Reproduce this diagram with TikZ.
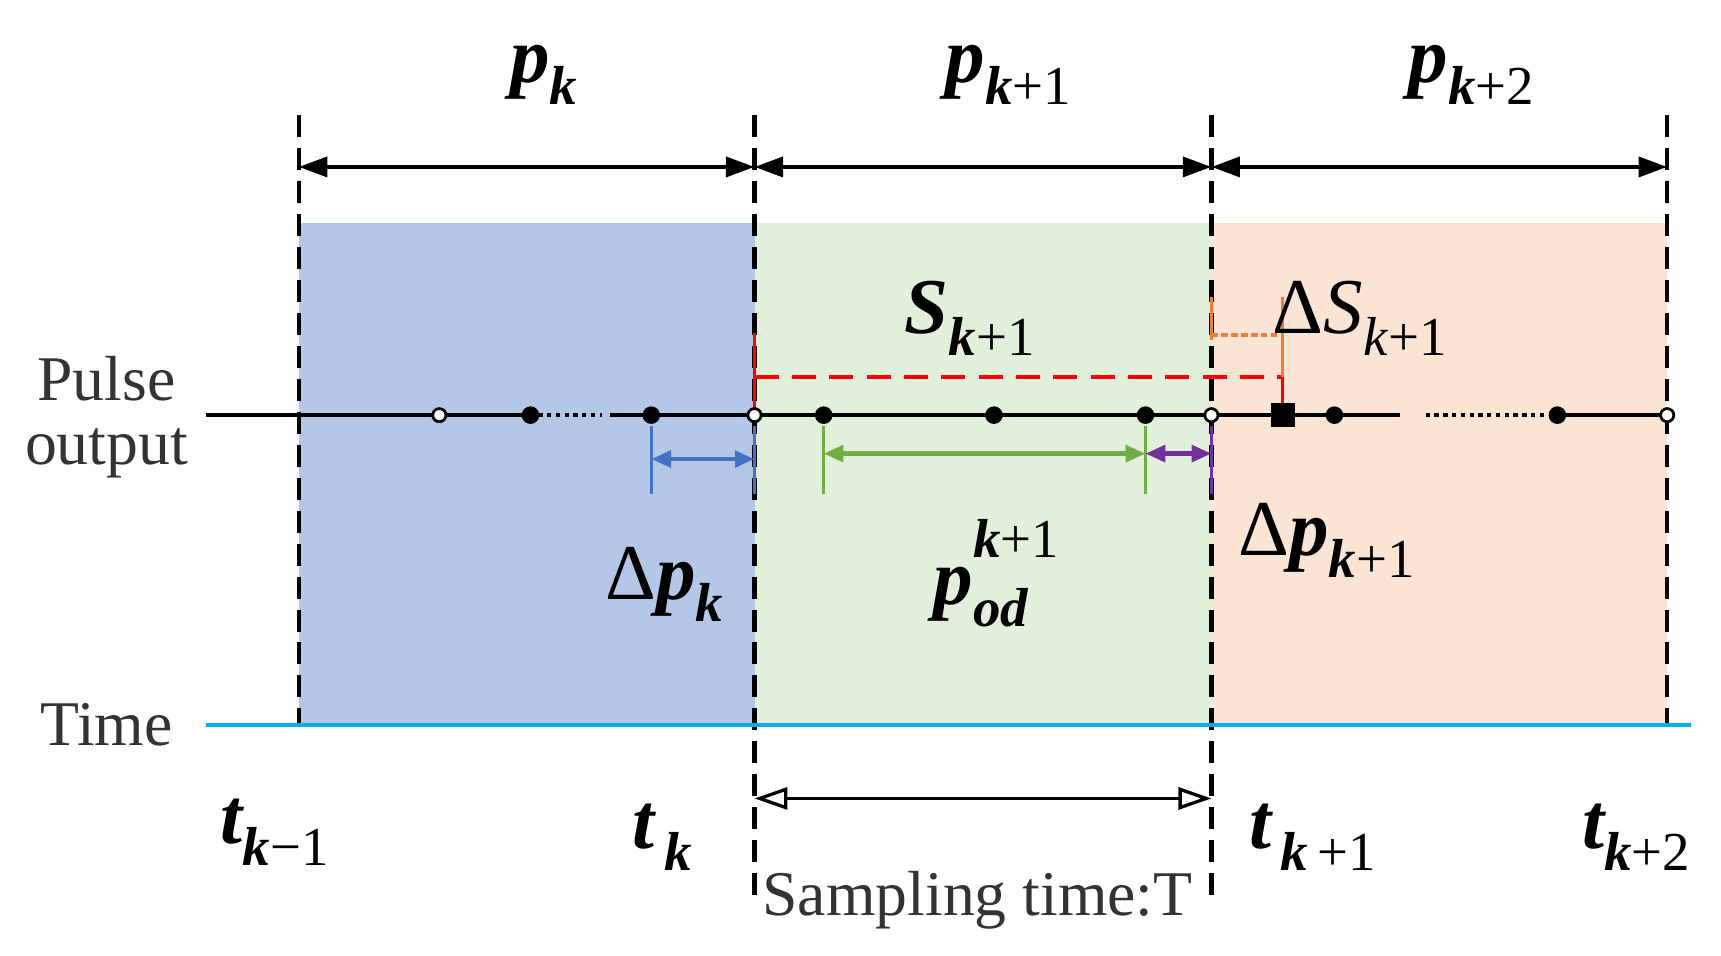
\documentclass[tikz,border=0pt]{standalone}
\usepackage{fontspec}
\setmainfont{Liberation Serif}
\usetikzlibrary{arrows.meta}
\definecolor{cblue}{RGB}{180,199,231}
\definecolor{cgreen}{RGB}{226,239,218}
\definecolor{corange}{RGB}{250,229,213}
\definecolor{lgreen}{RGB}{112,173,71}
\definecolor{lblue}{RGB}{68,114,196}
\definecolor{lpurp}{RGB}{112,48,160}
\definecolor{lorange}{RGB}{237,125,49}
\definecolor{lcyan}{RGB}{0,176,240}
\newcommand{\sbx}[1]{\raisebox{-0.28em}{\fontsize{50}{50}\selectfont #1}}
\newcommand{\spx}[1]{\raisebox{0.6em}{\fontsize{50}{50}\selectfont #1}}
\newcommand{\up}[1]{\textup{\mdseries #1}}
\begin{document}
\begin{tikzpicture}[x=1pt,y=-1pt,
  vd/.style={black,line width=4pt,dash pattern=on 20pt off 10pt},
  dim/.style={line width=4pt,{Triangle[length=26pt,width=18pt]}-{Triangle[length=26pt,width=18pt]}},
  sdim/.style={line width=4pt,{Triangle[length=18pt,width=15pt]}-{Triangle[length=18pt,width=15pt]}},
  odot/.style={circle,draw,line width=2.5pt,fill=white,inner sep=0pt,minimum size=12pt},
  fdot/.style={circle,fill,inner sep=0pt,minimum size=16pt},
  lab/.style={font=\fontsize{58}{62}\selectfont,text=black!80},
  big/.style={font=\fontsize{72}{76}\selectfont\bfseries\itshape}]
\useasboundingbox (0,0) rectangle (1567,870);
\fill[cblue] (272,203) rectangle (687,660);
\fill[cgreen] (687,203) rectangle (1103,660);
\fill[corange] (1103,203) rectangle (1518,660);
\foreach \x/\b in {272/660,687/815,1103/815,1518/660} \draw[vd] (\x,105) -- (\x,\b);
\coordinate (a0) at (272,152); \coordinate (a1) at (687,152);
\coordinate (a2) at (1103,152); \coordinate (a3) at (1518,152);
\draw[dim] (a0) -- (a1); \draw[dim] (a1) -- (a2); \draw[dim] (a2) -- (a3);
% pulse line
\draw[line width=4pt] (188,378) -- (490,378);
\draw[line width=4pt,dash pattern=on 4pt off 4pt] (490,378) -- (548,378);
\draw[line width=4pt] (555,378) -- (1275,378);
\draw[line width=4pt,dash pattern=on 4pt off 4pt] (1298,378) -- (1415,378);
\draw[line width=4pt] (1415,378) -- (1518,378);
% red / orange
\draw[red,line width=3pt] (687,303) -- (687,378);
\draw[red,line width=4pt,dash pattern=on 22pt off 12pt] (687,343) -- (1168,343);
\draw[red,line width=3pt] (1168,343) -- (1168,378);
\draw[lorange,line width=3pt] (1168,270) -- (1168,343);
\draw[lorange,line width=3pt] (1103,270) -- (1103,310);
\draw[lorange,line width=3pt,dash pattern=on 6pt off 3pt] (1103,305) -- (1168,305);
% dim ticks
\draw[lblue,line width=3pt] (593,388) -- (593,450) (687,388) -- (687,450);
\draw[lblue,sdim] (593,418) -- (687,418);
\draw[lgreen,line width=3pt] (750,388) -- (750,450) (1043,388) -- (1043,450);
\draw[lgreen,sdim] (750,413) -- (1043,413);
\draw[lpurp,line width=3pt] (1103,388) -- (1103,450);
\draw[lpurp,sdim] (1043,413) -- (1103,413);
% dots
\foreach \x [count=\i] in {400,687,1103,1518} \node[odot] (o\i) at (\x,378) {};
\foreach \x [count=\i] in {483,593,750,905,1043,1215,1418} \node[fdot] (f\i) at (\x,378) {};
\node[fill,minimum size=22pt,inner sep=0pt] (sq) at (1168,378) {};
% time
\draw[lcyan,line width=4pt] (188,660) -- (1540,660);
\coordinate (b0) at (687,727); \coordinate (b1) at (1103,727);
\draw[line width=3pt,{Triangle[open,length=30pt,width=20pt]}-{Triangle[open,length=30pt,width=20pt]}] (b0) -- (b1);
% text
\node[lab,align=center] (pulse) at (97,380) {Pulse\\[-4pt]output};
\node[lab] (time) at (97,660) {Time};
\node[lab] (samp) at (890,820) {Sampling time:T};
\node[big] (pk) at (495,68) {p\sbx{k}};
\node[big] (pk1) at (918,68) {p\sbx{k\up{+1}}};
\node[big] (pk2) at (1340,68) {p\sbx{k\up{+2}}};
\node[big] (t0) at (250,758) {t\sbx{k\up{−1}}};
\node[big] (t1) at (603,762) {t\sbx{\,k}};
\node[big] (t2) at (1195,762) {t\sbx{\,k\up{\,+1}}};
\node[big] (t3) at (1490,762) {t\sbx{k\up{+2}}};
\node[big] (s) at (883,290) {S\sbx{k\up{+1}}};
\node[font=\fontsize{72}{76}\selectfont\itshape] (ds) at (1238,290) {\up{Δ}S\sbx{k\up{+1}}};
\node[big] (dpk) at (605,532) {\up{Δ}p\sbx{k}};
\node[big] (pod) at (893,522) {p\rlap{\spx{k\up{+1}}}\sbx{od}};
\node[big] (dpk1) at (1208,492) {\up{Δ}p\sbx{k\up{+1}}};
\end{tikzpicture}
\end{document}
